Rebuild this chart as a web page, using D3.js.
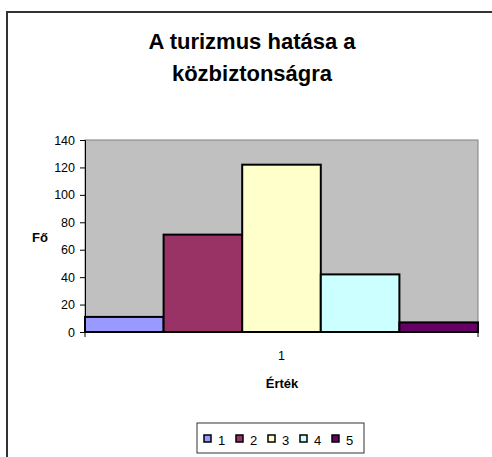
<!DOCTYPE html>
<head>
  <meta charset="utf-8">
  <script src="https://d3js.org/d3.v7.min.js"></script>
  <style>
    body { margin:0; background:#fff; }
    text { font-family: Arial, "Liberation Sans", sans-serif; fill:#000; }
  </style>
</head>
<body>
<div id="chart"></div>
<script>
  var width = 492;
  var height = 457;

  // data
  var titleLines = ["A turizmus hatása a", "közbiztonságra"];
  var categories = ["1"];
  var seriesNames = ["1", "2", "3", "4", "5"];
  var seriesValues = [11, 71, 122, 42, 7];
  var seriesColors = ["#9999FF", "#993366", "#FFFFCC", "#CCFFFF", "#660066"];
  var yTicks = [0, 20, 40, 60, 80, 100, 120, 140];

  var plot = {left: 85, top: 140, right: 478, bottom: 332};

  var svg = d3.select("#chart").append("svg")
    .attr("width", width)
    .attr("height", height);

  // chart area border (only left & top are in the frame)
  svg.append("rect")
    .attr("x", 7).attr("y", 12)
    .attr("width", width + 10).attr("height", height + 10)
    .attr("fill", "#fff")
    .attr("stroke", "#333").attr("stroke-width", 2);

  // title
  svg.append("g").selectAll("text")
    .data(titleLines)
    .enter().append("text")
    .attr("x", 252)
    .attr("y", function(d, i){ return 49 + i * 32; })
    .attr("text-anchor", "middle")
    .attr("font-size", "22px")
    .attr("font-weight", "bold")
    .text(function(d){ return d; });

  var yScale = d3.scaleLinear().domain([0, 140]).range([plot.bottom, plot.top]);
  var xCat = d3.scaleBand().domain(categories).range([plot.left, plot.right]);
  var xSeries = d3.scaleBand().domain(seriesNames).range([0, xCat.bandwidth()]).padding(0);

  // plot area
  svg.append("rect")
    .attr("x", plot.left).attr("y", plot.top)
    .attr("width", plot.right - plot.left).attr("height", plot.bottom - plot.top)
    .attr("fill", "#C0C0C0")
    .attr("stroke", "#808080").attr("stroke-width", 1);

  // bars
  var bars = seriesNames.map(function(s, i){ return {name: s, value: seriesValues[i], color: seriesColors[i]}; });
  svg.append("g").selectAll("rect")
    .data(bars)
    .enter().append("rect")
    .attr("x", function(d){ return xCat(categories[0]) + xSeries(d.name); })
    .attr("y", function(d){ return yScale(d.value); })
    .attr("width", xSeries.bandwidth())
    .attr("height", function(d){ return yScale(0) - yScale(d.value); })
    .attr("fill", function(d){ return d.color; })
    .attr("stroke", "#000").attr("stroke-width", 2);

  // y axis
  var yAxis = d3.axisLeft(yScale).tickValues(yTicks).tickSize(5).tickPadding(5);
  var yg = svg.append("g")
    .attr("transform", "translate(" + plot.left + ",0)")
    .call(yAxis);
  yg.select(".domain").attr("stroke", "#000");
  yg.selectAll("text").attr("font-size", "12.5px").attr("font-family", "Arial, 'Liberation Sans', sans-serif").attr("fill", "#000");

  // x axis: category axis with ticks at the edges
  var xg = svg.append("g")
    .attr("transform", "translate(0," + plot.bottom + ")");
  xg.append("line")
    .attr("x1", plot.left).attr("x2", plot.right)
    .attr("stroke", "#000");
  xg.selectAll(".edge")
    .data([xCat.range()[0], xCat.range()[1]])
    .enter().append("line")
    .attr("class", "edge")
    .attr("x1", function(d){ return d; }).attr("x2", function(d){ return d; })
    .attr("y1", 0).attr("y2", 5)
    .attr("stroke", "#000");
  xg.selectAll(".lbl")
    .data(categories)
    .enter().append("text")
    .attr("class", "lbl")
    .attr("x", function(d){ return xCat(d) + xCat.bandwidth() / 2; })
    .attr("y", 28)
    .attr("text-anchor", "middle")
    .attr("font-size", "12.5px")
    .text(function(d){ return d; });

  // axis titles
  svg.append("text")
    .attr("x", 40).attr("y", 242)
    .attr("text-anchor", "middle")
    .attr("font-size", "13px").attr("font-weight", "bold")
    .text("Fő");
  svg.append("text")
    .attr("x", 282).attr("y", 388)
    .attr("text-anchor", "middle")
    .attr("font-size", "13px").attr("font-weight", "bold")
    .text("Érték");

  // legend
  var legend = svg.append("g");
  legend.append("rect")
    .attr("x", 197).attr("y", 423)
    .attr("width", 167).attr("height", 30)
    .attr("fill", "#fff")
    .attr("stroke", "#333").attr("stroke-width", 1);
  var items = legend.selectAll(".item")
    .data(bars)
    .enter().append("g")
    .attr("class", "item")
    .attr("transform", function(d, i){ return "translate(" + (204 + i * 32) + ",435)"; });
  items.append("rect")
    .attr("width", 7).attr("height", 7)
    .attr("fill", function(d){ return d.color; })
    .attr("stroke", "#000").attr("stroke-width", 1.5);
  items.append("text")
    .attr("x", 14).attr("y", 9.5)
    .attr("font-size", "13px")
    .text(function(d){ return d.name; });
</script>
</body>
